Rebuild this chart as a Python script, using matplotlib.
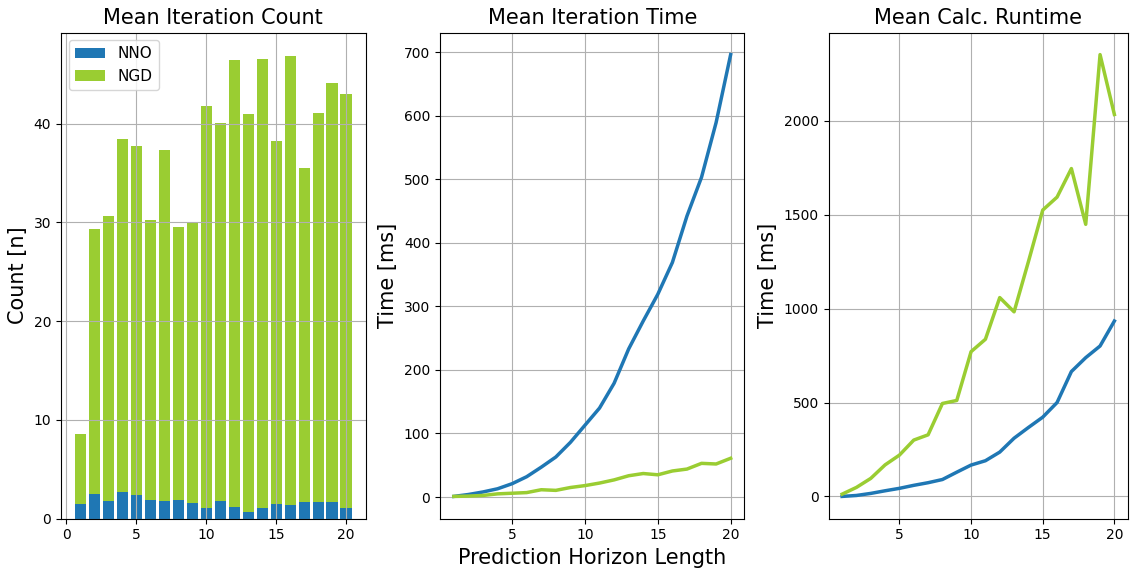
import numpy as np
import matplotlib
matplotlib.use("Agg")
import matplotlib.pyplot as plt

# Prediction horizon lengths
horizon = list(range(1, 21))

# Mean iteration count per solver
count_nno = [1.5, 2.5, 1.8, 2.7, 2.4, 1.9, 1.8, 1.9, 1.6, 1.1,
             1.8, 1.15, 0.65, 1.1, 1.5, 1.35, 1.65, 1.65, 1.7, 1.1]
count_ngd = [8.6, 29.3, 30.7, 38.5, 37.7, 30.2, 37.3, 29.5, 29.9, 41.8,
             40.1, 46.5, 41.0, 46.6, 38.3, 46.9, 35.5, 41.1, 44.1, 43.0]

# Mean time per iteration [ms]
iter_time_nno = [1, 4, 8, 13, 21, 32, 47, 63, 86, 113,
                 140, 179, 233, 277, 319, 369, 442, 503, 589, 696]
iter_time_ngd = [1, 1.5, 2.5, 5, 6, 7, 11.5, 10.5, 15, 18,
                 22, 27, 33.5, 37, 35, 41, 44, 53, 52, 61]

# Mean total calculation runtime [ms]
runtime_nno = [0, 5, 16, 30, 43, 59, 73, 90, 129, 167,
               190, 236, 310, 367, 422, 500, 665, 739, 801, 934]
runtime_ngd = [12, 48, 96, 168, 220, 300, 328, 495, 511, 771,
               837, 1059, 983, 1250, 1525, 1594, 1746, 1449, 2353, 2034]

BLUE = "#1f77b4"
GREEN = "#9acd32"

W, H = 1130, 570
fig = plt.figure(figsize=(W / 100, H / 100), dpi=100)
bottom, top = 518.5, 32.5


def panel(x0, x1):
    return fig.add_axes([x0 / W, 1 - bottom / H, (x1 - x0) / W, (bottom - top) / H])


axes = [panel(61, 365.5), panel(440, 744.5), panel(828.5, 1128)]

# Iteration count bars: NGD behind, NNO in front
ax = axes[0]
b_ngd = ax.bar(horizon, count_ngd, color=GREEN, label="NGD")
b_nno = ax.bar(horizon, count_nno, color=BLUE, label="NNO")
ax.grid(True)
ax.set_title("Mean Iteration Count", fontsize=15)
ax.set_ylabel("Count [n]", fontsize=15)
ax.legend(handles=[b_nno, b_ngd], loc="upper left", fontsize=11)

# Time per iteration
ax = axes[1]
ax.plot(horizon, iter_time_nno, color=BLUE, lw=2.5)
ax.plot(horizon, iter_time_ngd, color=GREEN, lw=2.5)
ax.grid(True)
ax.set_title("Mean Iteration Time", fontsize=15)
ax.set_ylabel("Time [ms]", fontsize=15)
ax.set_xlabel("Prediction Horizon Length", fontsize=15)

# Total runtime
ax = axes[2]
ax.plot(horizon, runtime_nno, color=BLUE, lw=2.5)
ax.plot(horizon, runtime_ngd, color=GREEN, lw=2.5)
ax.grid(True)
ax.set_title("Mean Calc. Runtime", fontsize=15)
ax.set_ylabel("Time [ms]", fontsize=15)

for ax in axes[1:]:
    ax.set_xticks([5, 10, 15, 20])

fig.savefig("out.png", dpi=100)
